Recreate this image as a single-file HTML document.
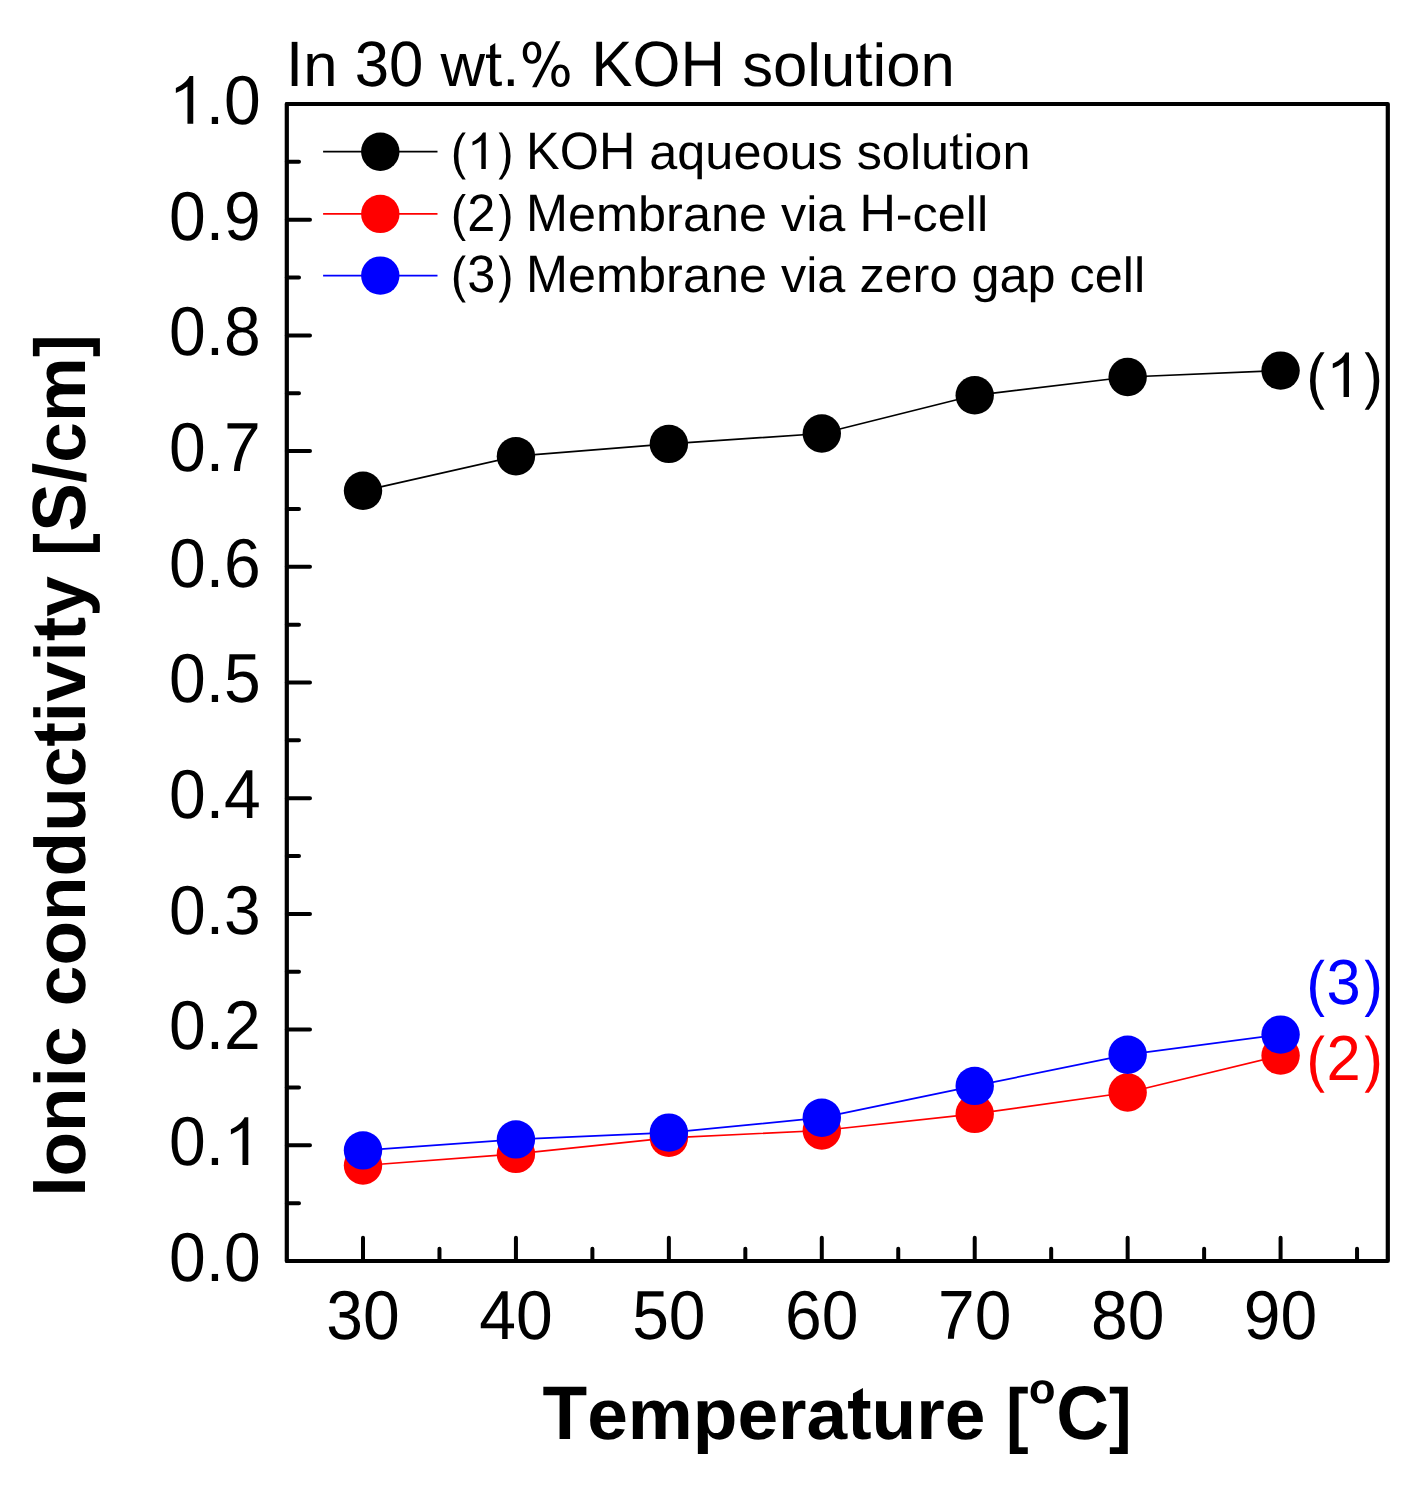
<!DOCTYPE html><html><head><meta charset="utf-8"><style>html,body{margin:0;padding:0;background:#fff;}svg{display:block;}text{font-family:"Liberation Sans",sans-serif;font-kerning:none;text-rendering:geometricPrecision;}</style></head><body>
<svg width="1428" height="1488" viewBox="0 0 1428 1488">
<rect x="0" y="0" width="1428" height="1488" fill="#fff"/>
<path d="M286.8,1261.00H310.0M286.8,1145.30H310.0M286.8,1029.60H310.0M286.8,913.90H310.0M286.8,798.20H310.0M286.8,682.50H310.0M286.8,566.80H310.0M286.8,451.10H310.0M286.8,335.40H310.0M286.8,219.70H310.0M286.8,104.00H310.0M286.8,1203.15H299.0M286.8,1087.45H299.0M286.8,971.75H299.0M286.8,856.05H299.0M286.8,740.35H299.0M286.8,624.65H299.0M286.8,508.95H299.0M286.8,393.25H299.0M286.8,277.55H299.0M286.8,161.85H299.0M363.00,1261.0V1237.8M515.93,1261.0V1237.8M668.86,1261.0V1237.8M821.79,1261.0V1237.8M974.72,1261.0V1237.8M1127.65,1261.0V1237.8M1280.58,1261.0V1237.8M439.47,1261.0V1248.8M592.39,1261.0V1248.8M745.33,1261.0V1248.8M898.25,1261.0V1248.8M1051.18,1261.0V1248.8M1204.12,1261.0V1248.8M1357.05,1261.0V1248.8" stroke="#000" stroke-width="4.0" stroke-linecap="round" fill="none"/>
<rect x="286.8" y="104.0" width="1101.0" height="1157.0" fill="none" stroke="#000" stroke-width="4.2" stroke-linejoin="round"/>
<path d="M363.00,490.80 L515.93,456.20 L668.86,443.90 L821.79,433.50 L974.72,395.30 L1127.65,377.00 L1280.58,370.60" stroke="#000" stroke-width="1.7" fill="none" stroke-linejoin="round"/>
<circle cx="363.00" cy="490.80" r="19.2" fill="#000"/>
<circle cx="515.93" cy="456.20" r="19.2" fill="#000"/>
<circle cx="668.86" cy="443.90" r="19.2" fill="#000"/>
<circle cx="821.79" cy="433.50" r="19.2" fill="#000"/>
<circle cx="974.72" cy="395.30" r="19.2" fill="#000"/>
<circle cx="1127.65" cy="377.00" r="19.2" fill="#000"/>
<circle cx="1280.58" cy="370.60" r="19.2" fill="#000"/>
<path d="M363.00,1165.50 L515.93,1153.90 L668.86,1137.80 L821.79,1130.50 L974.72,1113.90 L1127.65,1092.50 L1280.58,1055.60" stroke="#f00" stroke-width="1.7" fill="none" stroke-linejoin="round"/>
<circle cx="363.00" cy="1165.50" r="19.2" fill="#f00"/>
<circle cx="515.93" cy="1153.90" r="19.2" fill="#f00"/>
<circle cx="668.86" cy="1137.80" r="19.2" fill="#f00"/>
<circle cx="821.79" cy="1130.50" r="19.2" fill="#f00"/>
<circle cx="974.72" cy="1113.90" r="19.2" fill="#f00"/>
<circle cx="1127.65" cy="1092.50" r="19.2" fill="#f00"/>
<circle cx="1280.58" cy="1055.60" r="19.2" fill="#f00"/>
<path d="M363.00,1150.40 L515.93,1139.40 L668.86,1132.60 L821.79,1117.70 L974.72,1085.90 L1127.65,1054.70 L1280.58,1034.60" stroke="#00f" stroke-width="1.7" fill="none" stroke-linejoin="round"/>
<circle cx="363.00" cy="1150.40" r="19.2" fill="#00f"/>
<circle cx="515.93" cy="1139.40" r="19.2" fill="#00f"/>
<circle cx="668.86" cy="1132.60" r="19.2" fill="#00f"/>
<circle cx="821.79" cy="1117.70" r="19.2" fill="#00f"/>
<circle cx="974.72" cy="1085.90" r="19.2" fill="#00f"/>
<circle cx="1127.65" cy="1054.70" r="19.2" fill="#00f"/>
<circle cx="1280.58" cy="1034.60" r="19.2" fill="#00f"/>
<line x1="323.1" y1="151.7" x2="437.5" y2="151.7" stroke="#000" stroke-width="1.8"/>
<circle cx="380.3" cy="151.7" r="19.2" fill="#000"/>
<path d="M135,530Q135,821 220,1051Q306,1281 483,1484L619,1484Q463,1276 391,1042Q318,808 318,530Q318,253 390,20Q462,-213 619,-424L483,-424Q305,-220 220,10Q135,241 135,530Z" transform="translate(450.50,169.00) scale(0.02461,-0.02461)" fill="#000" fill-rule="evenodd"/>
<path d="M751,0L571,0L571,1157Q418,1027 211,952L211,1110C368,1180 548,1300 638,1482L751,1482Z" transform="translate(467.28,169.00) scale(0.02461,-0.02461)" fill="#000" fill-rule="evenodd"/>
<path d="M620,530Q620,821 535,1051Q449,1281 272,1484L136,1484Q292,1276 364,1042Q437,808 437,530Q437,253 365,20Q293,-213 136,-424L272,-424Q450,-220 535,10Q620,241 620,530Z" transform="translate(495.31,169.00) scale(0.02461,-0.02461)" fill="#000" fill-rule="evenodd"/>
<text transform="translate(526.10,169.00) scale(1,1.045)" font-size="50.4" fill="#000">KOH </text>
<text transform="translate(649.32,169.00) scale(1,0.98)" font-size="50.4" fill="#000">aqueous solu</text>
<path d="M558,8Q469,-16 376,-16Q168,-16 168,229L168,920L31,920L31,1042L168,1042L168,1314L340,1418L340,1042L536,1042L536,920L340,920L340,268Q340,190 365.5,158.5Q391,127 454,127Q490,127 558,141L558,8Z" transform="translate(949.16,169.00) scale(0.02461,-0.02461)" fill="#000" fill-rule="evenodd"/>
<text transform="translate(963.16,169.00) scale(1,0.98)" font-size="50.4" fill="#000">ion</text>
<line x1="323.1" y1="213.9" x2="437.5" y2="213.9" stroke="#f00" stroke-width="1.8"/>
<circle cx="380.3" cy="213.9" r="19.2" fill="#f00"/>
<path d="M135,530Q135,821 220,1051Q306,1281 483,1484L619,1484Q463,1276 391,1042Q318,808 318,530Q318,253 390,20Q462,-213 619,-424L483,-424Q305,-220 220,10Q135,241 135,530Z" transform="translate(450.50,230.50) scale(0.02461,-0.02461)" fill="#000" fill-rule="evenodd"/>
<text transform="translate(467.28,230.50) scale(1,1.045)" font-size="50.4" fill="#000">2</text>
<path d="M620,530Q620,821 535,1051Q449,1281 272,1484L136,1484Q292,1276 364,1042Q437,808 437,530Q437,253 365,20Q293,-213 136,-424L272,-424Q450,-220 535,10Q620,241 620,530Z" transform="translate(495.31,230.50) scale(0.02461,-0.02461)" fill="#000" fill-rule="evenodd"/>
<text transform="translate(526.10,230.50) scale(1,1.045)" font-size="50.4" fill="#000">M</text>
<text transform="translate(568.08,230.50) scale(1,0.98)" font-size="50.4" fill="#000">embrane via </text>
<text transform="translate(859.43,230.50) scale(1,1.045)" font-size="50.4" fill="#000">H</text>
<text transform="translate(895.83,230.50) scale(1,1.0)" font-size="50.4" fill="#000">-</text>
<text transform="translate(912.61,230.50) scale(1,0.98)" font-size="50.4" fill="#000">cell</text>
<line x1="323.1" y1="275.6" x2="437.5" y2="275.6" stroke="#00f" stroke-width="1.8"/>
<circle cx="380.3" cy="275.6" r="19.2" fill="#00f"/>
<path d="M135,530Q135,821 220,1051Q306,1281 483,1484L619,1484Q463,1276 391,1042Q318,808 318,530Q318,253 390,20Q462,-213 619,-424L483,-424Q305,-220 220,10Q135,241 135,530Z" transform="translate(450.50,292.10) scale(0.02461,-0.02461)" fill="#000" fill-rule="evenodd"/>
<text transform="translate(467.28,292.10) scale(1,1.045)" font-size="50.4" fill="#000">3</text>
<path d="M620,530Q620,821 535,1051Q449,1281 272,1484L136,1484Q292,1276 364,1042Q437,808 437,530Q437,253 365,20Q293,-213 136,-424L272,-424Q450,-220 535,10Q620,241 620,530Z" transform="translate(495.31,292.10) scale(0.02461,-0.02461)" fill="#000" fill-rule="evenodd"/>
<text transform="translate(526.10,292.10) scale(1,1.045)" font-size="50.4" fill="#000">M</text>
<text transform="translate(568.08,292.10) scale(1,0.98)" font-size="50.4" fill="#000">embrane via zero gap cell</text>
<text transform="translate(286.10,85.80) scale(1,1.04)" font-size="61.7" fill="#000">I</text>
<text transform="translate(303.24,85.80) scale(1,0.98)" font-size="61.7" fill="#000">n </text>
<text transform="translate(354.70,85.80) scale(1,1.04)" font-size="61.7" fill="#000">30 </text>
<text transform="translate(440.47,85.80) scale(1,0.98)" font-size="61.7" fill="#000">w</text>
<path d="M558,8Q469,-16 376,-16Q168,-16 168,229L168,920L31,920L31,1042L168,1042L168,1314L340,1418L340,1042L536,1042L536,920L340,920L340,268Q340,190 365.5,158.5Q391,127 454,127Q490,127 558,141L558,8Z" transform="translate(485.03,85.80) scale(0.03013,-0.03013)" fill="#000" fill-rule="evenodd"/>
<text transform="translate(502.17,85.80) scale(1,1.0)" font-size="61.7" fill="#000">.</text>
<path d="M730,1104C730,1333 613,1474 422,1474C231,1474 114,1333 114,1104C114,875 231,734 422,734C613,734 730,875 730,1104ZM422,840C323,840 257,945 257,1102C257,1259 323,1364 422,1364C521,1364 587,1259 587,1102C587,945 521,840 422,840ZM1670,333C1670,566 1554,708 1366,708C1178,708 1062,566 1062,333C1062,100 1178,-42 1366,-42C1554,-42 1670,100 1670,333ZM1366,68C1268,68 1203,174 1203,332C1203,490 1268,596 1366,596C1464,596 1529,490 1529,332C1529,174 1464,68 1366,68ZM424,-50L576,-50L1366,1475L1218,1475Z" transform="translate(519.31,85.80) scale(0.03013,-0.03013)" fill="#000" fill-rule="evenodd"/>
<text transform="translate(591.32,85.80) scale(1,1.04)" font-size="61.7" fill="#000">KOH </text>
<text transform="translate(742.16,85.80) scale(1,0.98)" font-size="61.7" fill="#000">solu</text>
<path d="M558,8Q469,-16 376,-16Q168,-16 168,229L168,920L31,920L31,1042L168,1042L168,1314L340,1418L340,1042L536,1042L536,920L340,920L340,268Q340,190 365.5,158.5Q391,127 454,127Q490,127 558,141L558,8Z" transform="translate(855.35,85.80) scale(0.03013,-0.03013)" fill="#000" fill-rule="evenodd"/>
<text transform="translate(872.49,85.80) scale(1,0.98)" font-size="61.7" fill="#000">ion</text>
<text transform="translate(169.05,1280.80) scale(1,1.05)" font-size="66" fill="#000">0</text>
<text transform="translate(205.76,1280.80) scale(1,1.0)" font-size="66" fill="#000">.</text>
<text transform="translate(224.09,1280.80) scale(1,1.05)" font-size="66" fill="#000">0</text>
<text transform="translate(169.05,1165.10) scale(1,1.05)" font-size="66" fill="#000">0</text>
<text transform="translate(205.76,1165.10) scale(1,1.0)" font-size="66" fill="#000">.</text>
<path d="M751,0L571,0L571,1157Q418,1027 211,952L211,1110C368,1180 548,1300 638,1482L751,1482Z" transform="translate(224.09,1165.10) scale(0.03223,-0.03223)" fill="#000" fill-rule="evenodd"/>
<text transform="translate(169.05,1049.40) scale(1,1.05)" font-size="66" fill="#000">0</text>
<text transform="translate(205.76,1049.40) scale(1,1.0)" font-size="66" fill="#000">.</text>
<text transform="translate(224.09,1049.40) scale(1,1.05)" font-size="66" fill="#000">2</text>
<text transform="translate(169.05,933.70) scale(1,1.05)" font-size="66" fill="#000">0</text>
<text transform="translate(205.76,933.70) scale(1,1.0)" font-size="66" fill="#000">.</text>
<text transform="translate(224.09,933.70) scale(1,1.05)" font-size="66" fill="#000">3</text>
<text transform="translate(169.05,818.00) scale(1,1.05)" font-size="66" fill="#000">0</text>
<text transform="translate(205.76,818.00) scale(1,1.0)" font-size="66" fill="#000">.</text>
<text transform="translate(224.09,818.00) scale(1,1.05)" font-size="66" fill="#000">4</text>
<text transform="translate(169.05,702.30) scale(1,1.05)" font-size="66" fill="#000">0</text>
<text transform="translate(205.76,702.30) scale(1,1.0)" font-size="66" fill="#000">.</text>
<text transform="translate(224.09,702.30) scale(1,1.05)" font-size="66" fill="#000">5</text>
<text transform="translate(169.05,586.60) scale(1,1.05)" font-size="66" fill="#000">0</text>
<text transform="translate(205.76,586.60) scale(1,1.0)" font-size="66" fill="#000">.</text>
<text transform="translate(224.09,586.60) scale(1,1.05)" font-size="66" fill="#000">6</text>
<text transform="translate(169.05,470.90) scale(1,1.05)" font-size="66" fill="#000">0</text>
<text transform="translate(205.76,470.90) scale(1,1.0)" font-size="66" fill="#000">.</text>
<path d="M1029.8,1326.2Q799.7,979.7 702.75,783.35Q605.8,587.0 553.55,395.9Q501.3,204.8 493.0,0.0L305.0,0.0Q316.5,283.5 443.7,596.95Q570.9,910.4 855.5,1318.8L105.0,1318.8L105.0,1479.5L1036.0,1479.5L1029.8,1326.2Z" transform="translate(224.09,470.90) scale(0.03223,-0.03223)" fill="#000" fill-rule="evenodd"/>
<text transform="translate(169.05,355.20) scale(1,1.05)" font-size="66" fill="#000">0</text>
<text transform="translate(205.76,355.20) scale(1,1.0)" font-size="66" fill="#000">.</text>
<text transform="translate(224.09,355.20) scale(1,1.05)" font-size="66" fill="#000">8</text>
<text transform="translate(169.05,239.50) scale(1,1.05)" font-size="66" fill="#000">0</text>
<text transform="translate(205.76,239.50) scale(1,1.0)" font-size="66" fill="#000">.</text>
<text transform="translate(224.09,239.50) scale(1,1.05)" font-size="66" fill="#000">9</text>
<path d="M751,0L571,0L571,1157Q418,1027 211,952L211,1110C368,1180 548,1300 638,1482L751,1482Z" transform="translate(169.05,123.80) scale(0.03223,-0.03223)" fill="#000" fill-rule="evenodd"/>
<text transform="translate(205.76,123.80) scale(1,1.0)" font-size="66" fill="#000">.</text>
<text transform="translate(224.09,123.80) scale(1,1.05)" font-size="66" fill="#000">0</text>
<text transform="translate(326.29,1338.80) scale(1,1.05)" font-size="66" fill="#000">30</text>
<text transform="translate(479.22,1338.80) scale(1,1.05)" font-size="66" fill="#000">40</text>
<text transform="translate(632.15,1338.80) scale(1,1.05)" font-size="66" fill="#000">50</text>
<text transform="translate(785.08,1338.80) scale(1,1.05)" font-size="66" fill="#000">60</text>
<path d="M1029.8,1326.2Q799.7,979.7 702.75,783.35Q605.8,587.0 553.55,395.9Q501.3,204.8 493.0,0.0L305.0,0.0Q316.5,283.5 443.7,596.95Q570.9,910.4 855.5,1318.8L105.0,1318.8L105.0,1479.5L1036.0,1479.5L1029.8,1326.2Z" transform="translate(938.01,1338.80) scale(0.03223,-0.03223)" fill="#000" fill-rule="evenodd"/>
<text transform="translate(974.72,1338.80) scale(1,1.05)" font-size="66" fill="#000">0</text>
<text transform="translate(1090.94,1338.80) scale(1,1.05)" font-size="66" fill="#000">80</text>
<text transform="translate(1243.87,1338.80) scale(1,1.05)" font-size="66" fill="#000">90</text>
<path d="M135,530Q135,821 220,1051Q306,1281 483,1484L619,1484Q463,1276 391,1042Q318,808 318,530Q318,253 390,20Q462,-213 619,-424L483,-424Q305,-220 220,10Q135,241 135,530Z" transform="translate(1305.95,396.90) scale(0.03003,-0.03003)" fill="#000" fill-rule="evenodd"/>
<path d="M751,0L571,0L571,1157Q418,1027 211,952L211,1110C368,1180 548,1300 638,1482L751,1482Z" transform="translate(1326.43,396.90) scale(0.03003,-0.03003)" fill="#000" fill-rule="evenodd"/>
<path d="M620,530Q620,821 535,1051Q449,1281 272,1484L136,1484Q292,1276 364,1042Q437,808 437,530Q437,253 365,20Q293,-213 136,-424L272,-424Q450,-220 535,10Q620,241 620,530Z" transform="translate(1360.63,396.90) scale(0.03003,-0.03003)" fill="#000" fill-rule="evenodd"/>
<path d="M135,530Q135,821 220,1051Q306,1281 483,1484L619,1484Q463,1276 391,1042Q318,808 318,530Q318,253 390,20Q462,-213 619,-424L483,-424Q305,-220 220,10Q135,241 135,530Z" transform="translate(1305.95,1004.30) scale(0.03003,-0.03003)" fill="#00f" fill-rule="evenodd"/>
<text transform="translate(1326.43,1004.30) scale(1,1.035)" font-size="61.5" fill="#00f">3</text>
<path d="M620,530Q620,821 535,1051Q449,1281 272,1484L136,1484Q292,1276 364,1042Q437,808 437,530Q437,253 365,20Q293,-213 136,-424L272,-424Q450,-220 535,10Q620,241 620,530Z" transform="translate(1360.63,1004.30) scale(0.03003,-0.03003)" fill="#00f" fill-rule="evenodd"/>
<path d="M135,530Q135,821 220,1051Q306,1281 483,1484L619,1484Q463,1276 391,1042Q318,808 318,530Q318,253 390,20Q462,-213 619,-424L483,-424Q305,-220 220,10Q135,241 135,530Z" transform="translate(1305.95,1080.00) scale(0.03003,-0.03003)" fill="#f00" fill-rule="evenodd"/>
<text transform="translate(1326.43,1080.00) scale(1,1.035)" font-size="61.5" fill="#f00">2</text>
<path d="M620,530Q620,821 535,1051Q449,1281 272,1484L136,1484Q292,1276 364,1042Q437,808 437,530Q437,253 365,20Q293,-213 136,-424L272,-424Q450,-220 535,10Q620,241 620,530Z" transform="translate(1360.63,1080.00) scale(0.03003,-0.03003)" fill="#f00" fill-rule="evenodd"/>
<g transform="translate(84.9,1196.8) rotate(-90)">
<text transform="translate(0.00,0.00) scale(1,1.034)" font-size="73.0" font-weight="bold" fill="#000">I</text>
<text transform="translate(20.28,0.00) scale(1,0.98)" font-size="73.0" font-weight="bold" fill="#000">onic conduc</text>
<path d="M420,-18Q296,-18 229,49.5Q162,117 162,254L162,850L25,850L25,1057L162,1057L162,1272L440,1426L440,1057L645,1057L645,850L440,850L440,330Q440,251 470,213.5Q500,176 563,176Q596,176 657,190L657,16Q553,-18 420,-18Z" transform="translate(450.19,0.00) scale(0.03564,-0.03564)" fill="#000" fill-rule="evenodd"/>
<text transform="translate(474.50,0.00) scale(1,0.98)" font-size="73.0" font-weight="bold" fill="#000">ivi</text>
<path d="M420,-18Q296,-18 229,49.5Q162,117 162,254L162,850L25,850L25,1057L162,1057L162,1272L440,1426L440,1057L645,1057L645,850L440,850L440,330Q440,251 470,213.5Q500,176 563,176Q596,176 657,190L657,16Q553,-18 420,-18Z" transform="translate(555.66,0.00) scale(0.03564,-0.03564)" fill="#000" fill-rule="evenodd"/>
<text transform="translate(579.97,0.00) scale(1,0.98)" font-size="73.0" font-weight="bold" fill="#000">y </text>
<text transform="translate(641.14,0.00) scale(0.93,0.985)" font-size="73.0" font-weight="bold" fill="#000">[</text>
<text transform="translate(665.16,0.00) scale(1,1.034)" font-size="73.0" font-weight="bold" fill="#000">S</text>
<text transform="translate(713.85,0.00) scale(1,1.0)" font-size="73.0" font-weight="bold" fill="#000">/</text>
<text transform="translate(734.13,0.00) scale(1,0.98)" font-size="73.0" font-weight="bold" fill="#000">cm</text>
<text transform="translate(839.70,0.00) scale(0.93,0.985)" font-size="73.0" font-weight="bold" fill="#000">]</text>
</g>
<text transform="translate(542.50,1438.80) scale(1,1.037)" font-size="73.1" font-weight="bold" fill="#000">T</text>
<text transform="translate(587.15,1438.80) scale(1,0.98)" font-size="73.1" font-weight="bold" fill="#000">empera</text>
<path d="M420,-18Q296,-18 229,49.5Q162,117 162,254L162,850L25,850L25,1057L162,1057L162,1272L440,1426L440,1057L645,1057L645,850L440,850L440,330Q440,251 470,213.5Q500,176 563,176Q596,176 657,190L657,16Q553,-18 420,-18Z" transform="translate(847.21,1438.80) scale(0.03569,-0.03569)" fill="#000" fill-rule="evenodd"/>
<text transform="translate(871.56,1438.80) scale(1,0.98)" font-size="73.1" font-weight="bold" fill="#000">ure </text>
<text transform="translate(1005.91,1438.80) scale(0.93,0.985)" font-size="73.1" font-weight="bold" fill="#000">[</text>
<path d="M1171 542Q1171 279 1025.0 129.5Q879 -20 621 -20Q368 -20 224.0 130.0Q80 280 80 542Q80 803 224.0 952.5Q368 1102 627 1102Q892 1102 1031.5 957.5Q1171 813 1171 542ZM877 542Q877 735 814.0 822.0Q751 909 631 909Q375 909 375 542Q375 361 437.5 266.5Q500 172 618 172Q877 172 877 542Z" transform="translate(1028.9,1403.2) scale(0.02124,-0.02082)" fill="#000"/>
<text transform="translate(1056.20,1438.80) scale(1,1.037)" font-size="73.1" font-weight="bold" fill="#000">C</text>
<text transform="translate(1109.05,1438.80) scale(0.93,0.985)" font-size="73.1" font-weight="bold" fill="#000">]</text>
</svg></body></html>
